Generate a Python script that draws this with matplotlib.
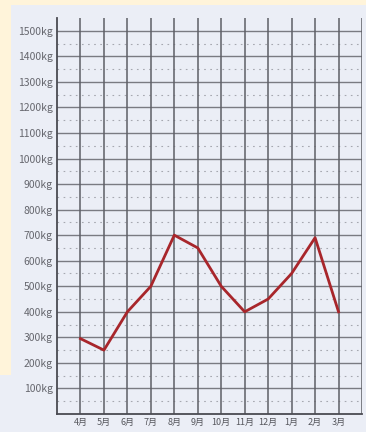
import matplotlib
matplotlib.use("Agg")
import matplotlib.pyplot as plt
from matplotlib.patches import Rectangle
import numpy as np

plt.rcParams['font.family'] = ['Noto Sans CJK JP', 'DejaVu Sans']

# Monthly weight (kg), April through March
months = ["4月", "5月", "6月", "7月", "8月", "9月", "10月", "11月", "12月", "1月", "2月", "3月"]
weights = [295, 250, 400, 500, 700, 650, 500, 400, 450, 550, 690, 400]
y_ticks = list(range(100, 1600, 100))
y_labels = [f"{v}kg" for v in y_ticks]

W, H = 366, 432
fig = plt.figure(figsize=(W / 100, H / 100), dpi=100)
fig.patch.set_facecolor("#FFF4DA")

# Pale card behind the chart
panel_color = "#EBEEF6"
fig.patches.append(Rectangle((11 / W, 0), 1 - 11 / W, 1 - 5 / H,
                             transform=fig.transFigure, facecolor=panel_color,
                             edgecolor="none", zorder=-5))
fig.patches.append(Rectangle((0, 0), 12 / W, (H - 375) / H,
                             transform=fig.transFigure, facecolor=panel_color,
                             edgecolor="none", zorder=-5))

ax = fig.add_axes([57 / W, (H - 414) / H, (362 - 57) / W, (414 - 18) / H])
ax.set_facecolor("none")
ax.set_zorder(2)

x = np.arange(len(months))
ax.set_xlim(-1, len(months))
ax.set_ylim(0, 1550)

# Grid: solid lines every 100 kg and per month, dotted lines at the 50 kg marks
for v in y_ticks:
    ax.axhline(v, color="#7A7B82", lw=1.0, zorder=1)
for v in range(50, 1550, 100):
    ax.axhline(v, color="#A6A8B0", lw=0.8, ls=(0, (1.5, 4)), zorder=1)
for xi in list(x) + [len(months)]:
    ax.axvline(xi, color="#5E5F66", lw=1.1, zorder=1)

for side in ("top", "right"):
    ax.spines[side].set_visible(False)
for side in ("left", "bottom"):
    ax.spines[side].set_color("#4A4B52")
    ax.spines[side].set_linewidth(1.3)

ax.plot(x, weights, color="#A8262B", lw=2.0, zorder=3)

ax.set_yticks(y_ticks)
ax.set_yticklabels(y_labels, fontsize=7.5, color="#66676E")
ax.set_xticks(x)
ax.set_xticklabels(months, fontsize=6.5, color="#55565C")
ax.tick_params(axis="both", length=0, pad=3)

fig.savefig("out.png", dpi=100)
